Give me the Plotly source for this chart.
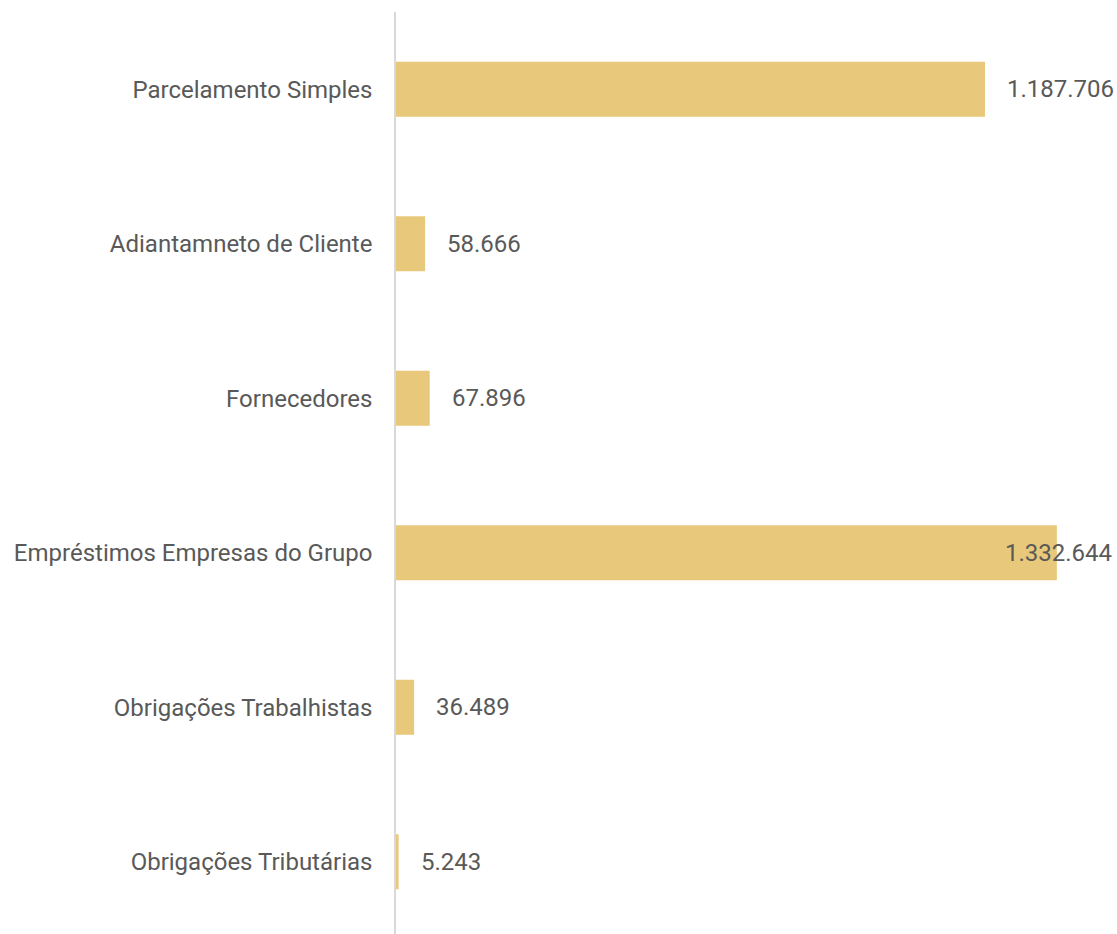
import plotly.graph_objects as go

categories = [
    "Parcelamento Simples",
    "Adiantamneto de Cliente",
    "Fornecedores",
    "Empréstimos Empresas do Grupo",
    "Obrigações Trabalhistas",
    "Obrigações Tributárias",
]
values = [1187706, 58666, 67896, 1332644, 36489, 5243]
value_labels = ["1.187.706", "58.666", "67.896", "1.332.644", "36.489", "5.243"]

W, H = 1117, 939
ML, MR, MT, MB = 396, 0, 12, 0
x_max = max(values) * 1.091
plot_w = W - ML - MR

bar_color = "#E8C87A"
text_color = "#595959"
font_family = "Roboto, Arial, sans-serif"
font_size = 24
label_shift = 20
est_label_w = 106

fig = go.Figure(
    go.Bar(
        x=values,
        y=categories,
        orientation="h",
        marker=dict(color=bar_color, line=dict(width=0)),
        width=0.356,
        hoverinfo="skip",
    )
)

annotations = []
for cat, v, lab in zip(categories, values, value_labels):
    px_end = ML + v / x_max * plot_w + label_shift + est_label_w
    if px_end > W - 4:
        annotations.append(dict(
            x=1, xref="paper", y=cat, yref="y", text=lab, showarrow=False,
            xanchor="right", xshift=-3,
            font=dict(family=font_family, size=font_size, color=text_color),
        ))
    else:
        annotations.append(dict(
            x=v, xref="x", y=cat, yref="y", text=lab, showarrow=False,
            xanchor="left", xshift=label_shift,
            font=dict(family=font_family, size=font_size, color=text_color),
        ))

fig.update_layout(
    width=W,
    height=H,
    margin=dict(l=ML, r=MR, t=MT, b=MB, pad=0),
    paper_bgcolor="white",
    plot_bgcolor="white",
    showlegend=False,
    annotations=annotations,
    xaxis=dict(
        range=[0, x_max],
        visible=False,
        showgrid=False,
        zeroline=False,
    ),
    yaxis=dict(
        autorange="reversed",
        showline=True,
        linecolor="#d9d9d9",
        linewidth=1.5,
        showgrid=False,
        zeroline=False,
        ticks="",
        ticklabelstandoff=17,
        tickfont=dict(family=font_family, size=font_size, color=text_color),
    ),
)

fig.write_html("out.html", config={"displayModeBar": False})

# remove default page margin so the figure sits at the window origin
with open("out.html", "r", encoding="utf-8") as f:
    html = f.read()
html = html.replace(
    "<head>",
    "<head><style>html,body{margin:0;padding:0;overflow:hidden;}</style>",
    1,
)
with open("out.html", "w", encoding="utf-8") as f:
    f.write(html)
